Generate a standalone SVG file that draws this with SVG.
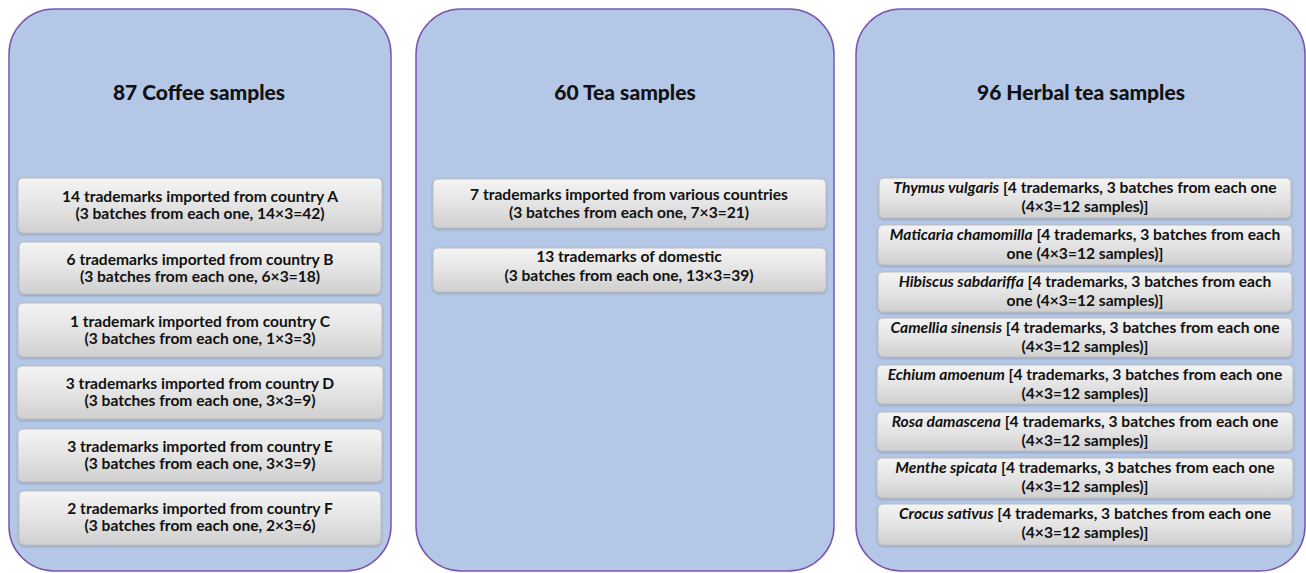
<svg xmlns="http://www.w3.org/2000/svg" width="1306" height="573" viewBox="0 0 1306 573">
<defs>
<linearGradient id="g" x1="0" y1="0" x2="0" y2="1">
<stop offset="0" stop-color="#f4f4f4"/>
<stop offset="0.5" stop-color="#e4e4e4"/>
<stop offset="1" stop-color="#cfcfcf"/>
</linearGradient>
<filter id="sh" x="-5%" y="-20%" width="110%" height="150%">
<feDropShadow dx="0" dy="1" stdDeviation="0.8" flood-color="#000" flood-opacity="0.25"/>
</filter>
</defs>
<style>
.panel{fill:#b4c7e7;stroke:#7a55b0;stroke-width:1.5}
.box{fill:url(#g);stroke:#bdbdbd;stroke-width:1;filter:url(#sh)}
.title{font-family:Lato,"Liberation Sans",sans-serif;font-weight:900;font-size:21px;fill:#111;text-anchor:middle}
.t{font-family:Lato,"Liberation Sans",sans-serif;font-weight:bold;font-size:15.6px;fill:#111;text-anchor:middle}
.i{font-style:italic}
</style>
<rect width="1306" height="573" fill="#fff"/>

<g id="coffee">
<rect class="panel" x="9" y="9" width="382" height="562" rx="45"/>
<text class="title" x="199" y="100">87 Coffee samples</text>
</g>
<g id="tea">
<rect class="panel" x="416" y="9" width="418" height="562" rx="45"/>
<text class="title" x="625" y="100">60 Tea samples</text>
</g>
<g id="herbal">
<rect class="panel" x="856" y="9" width="449" height="562" rx="45"/>
<text class="title" x="1081" y="100">96 Herbal tea samples</text>
</g>

<g id="cA"><rect class="box" x="18" y="178" width="364" height="55" rx="5"/>
<text class="t" x="200" y="202">14 trademarks imported from country A</text>
<text class="t" x="200" y="219">(3 batches from each one, 14×3=42)</text></g>
<g id="cB"><rect class="box" x="19" y="242" width="362" height="52" rx="5"/>
<text class="t" x="200" y="265">6 trademarks imported from country B</text>
<text class="t" x="200" y="282">(3 batches from each one, 6×3=18)</text></g>
<g id="cC"><rect class="box" x="18" y="303" width="364" height="54" rx="5"/>
<text class="t" x="200" y="327">1 trademark imported from country C</text>
<text class="t" x="200" y="344">(3 batches from each one, 1×3=3)</text></g>
<g id="cD"><rect class="box" x="17" y="366" width="366" height="53" rx="5"/>
<text class="t" x="200" y="389">3 trademarks imported from country D</text>
<text class="t" x="200" y="406">(3 batches from each one, 3×3=9)</text></g>
<g id="cE"><rect class="box" x="18" y="429" width="364" height="53" rx="5"/>
<text class="t" x="200" y="452">3 trademarks imported from country E</text>
<text class="t" x="200" y="469">(3 batches from each one, 3×3=9)</text></g>
<g id="cF"><rect class="box" x="19" y="491" width="362" height="54" rx="5"/>
<text class="t" x="200" y="514">2 trademarks imported from country F</text>
<text class="t" x="200" y="531">(3 batches from each one, 2×3=6)</text></g>

<g id="t1"><rect class="box" x="433" y="179" width="393" height="49" rx="5"/>
<text class="t" x="629" y="200">7 trademarks imported from various countries</text>
<text class="t" x="629" y="218">(3 batches from each one, 7×3=21)</text></g>
<g id="t2"><rect class="box" x="433" y="248" width="393" height="44" rx="5"/>
<text class="t" x="629" y="262">13 trademarks of domestic</text>
<text class="t" x="629" y="281">(3 batches from each one, 13×3=39)</text></g>

<g id="h1"><rect class="box" x="879" y="178" width="412" height="40" rx="5"/>
<text class="t" x="1085" y="193"><tspan class="i">Thymus vulgaris</tspan> [4 trademarks, 3 batches from each one</text>
<text class="t" x="1085" y="212">(4×3=12 samples)]</text></g>
<g id="h2"><rect class="box" x="878" y="225" width="414" height="40" rx="5"/>
<text class="t" x="1085" y="240"><tspan class="i">Maticaria  chamomilla</tspan> [4 trademarks, 3 batches from each</text>
<text class="t" x="1085" y="259">one (4×3=12 samples)]</text></g>
<g id="h3"><rect class="box" x="878" y="272" width="414" height="40" rx="5"/>
<text class="t" x="1085" y="287"><tspan class="i">Hibiscus sabdariffa</tspan> [4 trademarks, 3 batches from each</text>
<text class="t" x="1085" y="306">one (4×3=12 samples)]</text></g>
<g id="h4"><rect class="box" x="878" y="318" width="414" height="39" rx="5"/>
<text class="t" x="1085" y="333"><tspan class="i">Camellia sinensis</tspan> [4 trademarks, 3 batches from each one</text>
<text class="t" x="1085" y="352">(4×3=12 samples)]</text></g>
<g id="h5"><rect class="box" x="877" y="365" width="416" height="39" rx="5"/>
<text class="t" x="1085" y="380"><tspan class="i">Echium amoenum</tspan>  [4 trademarks, 3 batches from each one</text>
<text class="t" x="1085" y="399">(4×3=12 samples)]</text></g>
<g id="h6"><rect class="box" x="877" y="412" width="416" height="39" rx="5"/>
<text class="t" x="1085" y="427"><tspan class="i">Rosa damascena</tspan> [4 trademarks, 3 batches from each one</text>
<text class="t" x="1085" y="446">(4×3=12 samples)]</text></g>
<g id="h7"><rect class="box" x="877" y="458" width="416" height="40" rx="5"/>
<text class="t" x="1085" y="473"><tspan class="i">Menthe spicata</tspan> [4 trademarks, 3 batches from each one</text>
<text class="t" x="1085" y="492">(4×3=12 samples)]</text></g>
<g id="h8"><rect class="box" x="878" y="504" width="414" height="41" rx="5"/>
<text class="t" x="1085" y="519"><tspan class="i">Crocus sativus</tspan> [4 trademarks, 3 batches from each one</text>
<text class="t" x="1085" y="538">(4×3=12 samples)]</text></g>
</svg>
